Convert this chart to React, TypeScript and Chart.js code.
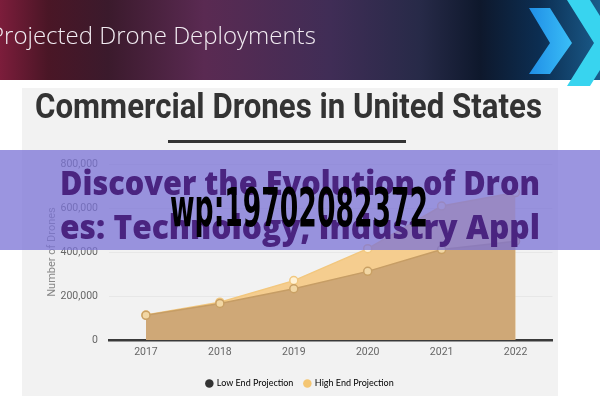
import React, { useEffect, useRef } from "react";
import { Chart, registerables } from "chart.js";

Chart.register(...registerables);

const years = ["2017", "2018", "2019", "2020", "2021", "2022"];
const lowEnd = [112000, 166000, 233000, 312000, 411000, 449000];
const highEnd = [114000, 172000, 270000, 415000, 609000, 670000];
const seriesNames = ["Low End Projection", "High End Projection"];
const legendColors = ["#333333", "#f4c673"];
const bannerTitle = "Projected Drone Deployments";
const chartTitle = "Commercial Drones in United States";
const yTitle = "Number of Drones";
const overlayLines = ["Discover the Evolution of Dron", "es: Technology, Industry Appl"];
const stampText = "wp:19702082372";

const decor = {
  id: "decor",
  afterLayout(chart: any) {
    if (chart.legend) {
      chart.legend.right = 600;
      chart.legend.width = 600 - chart.legend.left;
    }
  },
  beforeDraw(chart: any) {
    const ctx = chart.ctx as CanvasRenderingContext2D;
    ctx.save();
    ctx.fillStyle = "#ffffff";
    ctx.fillRect(0, 0, 600, 400);
    // banner
    const g = ctx.createLinearGradient(0, 0, 600, 0);
    g.addColorStop(0, "#7c1d3b");
    g.addColorStop(0.08, "#4a1626");
    g.addColorStop(0.18, "#3b1a2c");
    g.addColorStop(0.34, "#5a2a52");
    g.addColorStop(0.55, "#402d56");
    g.addColorStop(0.7, "#272a48");
    g.addColorStop(0.8, "#0e182c");
    g.addColorStop(0.9, "#0c2e52");
    g.addColorStop(1, "#1a5b8a");
    ctx.fillStyle = g;
    ctx.fillRect(0, 0, 600, 80);
    // chevrons
    const cg = ctx.createLinearGradient(528, 0, 575, 0);
    cg.addColorStop(0, "#1f8de6");
    cg.addColorStop(1, "#3cc2f8");
    ctx.fillStyle = cg;
    ctx.beginPath();
    ctx.moveTo(529, 8);
    ctx.lineTo(550, 8);
    ctx.lineTo(572, 43);
    ctx.lineTo(550, 74);
    ctx.lineTo(529, 74);
    ctx.lineTo(550, 43);
    ctx.closePath();
    ctx.fill();
    ctx.fillStyle = "#38d4ef";
    ctx.beginPath();
    ctx.moveTo(567, 0);
    ctx.lineTo(590, 0);
    ctx.lineTo(617, 43);
    ctx.lineTo(590, 86);
    ctx.lineTo(567, 86);
    ctx.lineTo(594, 43);
    ctx.closePath();
    ctx.fill();
    // banner title
    ctx.fillStyle = "#f2ecf2";
    ctx.font = "300 24px 'Open Sans'";
    ctx.textBaseline = "alphabetic";
    ctx.textAlign = "left";
    ctx.fillText(bannerTitle, -10, 44);
    // panel
    ctx.fillStyle = "#f2f2f2";
    ctx.fillRect(22, 88, 536, 308);
    // chart title
    ctx.fillStyle = "#333333";
    ctx.font = "bold 35px Roboto";
    ctx.fillText(chartTitle, 35, 118, 507);
    ctx.fillRect(168, 140, 238, 3);
    ctx.restore();
  },
  afterDraw(chart: any) {
    const ctx = chart.ctx as CanvasRenderingContext2D;
    ctx.save();
    ctx.fillStyle = "rgba(122,114,213,0.75)";
    ctx.fillRect(0, 150, 600, 100);
    ctx.fillStyle = "#4a2480";
    ctx.font = "800 33px 'Open Sans'";
    ctx.textAlign = "left";
    ctx.textBaseline = "alphabetic";
    ctx.fillText(overlayLines[0], 60, 195, 480);
    ctx.fillText(overlayLines[1], 60, 239, 480);
    ctx.fillStyle = "#000000";
    ctx.font = "bold 54px 'Liberation Sans Narrow', 'DejaVu Sans Condensed', sans-serif";
    ctx.fillText(stampText, 170, 226, 258);
    ctx.restore();
  },
};

export default function App() {
  const ref = useRef<HTMLCanvasElement | null>(null);
  useEffect(() => {
    if (!ref.current) return;
    const chart = new Chart(ref.current, {
      type: "line",
      data: {
        labels: years,
        datasets: [
          {
            label: seriesNames[0],
            data: lowEnd,
            fill: "origin",
            backgroundColor: "#cfa877",
            borderColor: "#c69d65",
            borderWidth: 1.5,
            pointRadius: 4,
            pointBackgroundColor: "#f2d7a4",
            pointBorderColor: "#c9a064",
            pointBorderWidth: 1.5,
            tension: 0,
          },
          {
            label: seriesNames[1],
            data: highEnd,
            fill: "origin",
            backgroundColor: "#f5cd8f",
            borderColor: "#f2c77e",
            borderWidth: 1.5,
            pointRadius: 4,
            pointBackgroundColor: "#fff2d6",
            pointBorderColor: "#f1c880",
            pointBorderWidth: 1.5,
            tension: 0,
          },
        ],
      },
      options: {
        animation: false,
        responsive: false,
        layout: { padding: { left: 0, right: 47.5, top: 164, bottom: 2 } },
        plugins: {
          tooltip: { enabled: false },
          legend: {
            position: "bottom",
            labels: {
              usePointStyle: true,
              boxWidth: 6,
              boxHeight: 6,
              padding: 11,
              color: "#555555",
              font: { family: "Lato", size: 9 },
              generateLabels: () =>
                seriesNames.map((n, i) => ({
                  text: n,
                  fillStyle: legendColors[i],
                  strokeStyle: legendColors[i],
                  lineWidth: 0,
                  pointStyle: "circle",
                  hidden: false,
                  datasetIndex: i,
                })),
            },
          },
        },
        scales: {
          x: {
            type: "category",
            offset: true,
            grid: { display: false, drawTicks: false },
            border: { display: true, color: "#3a3a3a", width: 2.5 },
            ticks: { color: "#666666", font: { family: "Roboto", size: 10.5 }, padding: 6 },
            afterFit: (s: any) => {
              s.height = 28;
            },
          },
          y: {
            min: 0,
            max: 800000,
            grid: { color: "rgba(0,0,0,0.045)", drawTicks: false },
            border: { display: false },
            ticks: {
              stepSize: 200000,
              color: "#666666",
              font: { family: "Roboto", size: 10.5 },
              padding: 11,
              callback: (v: any) => Number(v).toLocaleString("en-US"),
            },
            title: {
              display: true,
              text: yTitle,
              color: "#888888",
              font: { family: "Roboto", size: 11 },
              padding: { top: 46, bottom: 0 },
            },
            afterFit: (s: any) => {
              s.width = 109;
            },
          },
        },
      },
      plugins: [decor],
    });
    return () => chart.destroy();
  }, []);
  return (
    <div style={{ position: "fixed", left: 0, top: 0, width: 600, height: 400 }}>
      <canvas ref={ref} width={600} height={400} style={{ width: 600, height: 400 }} />
    </div>
  );
}
